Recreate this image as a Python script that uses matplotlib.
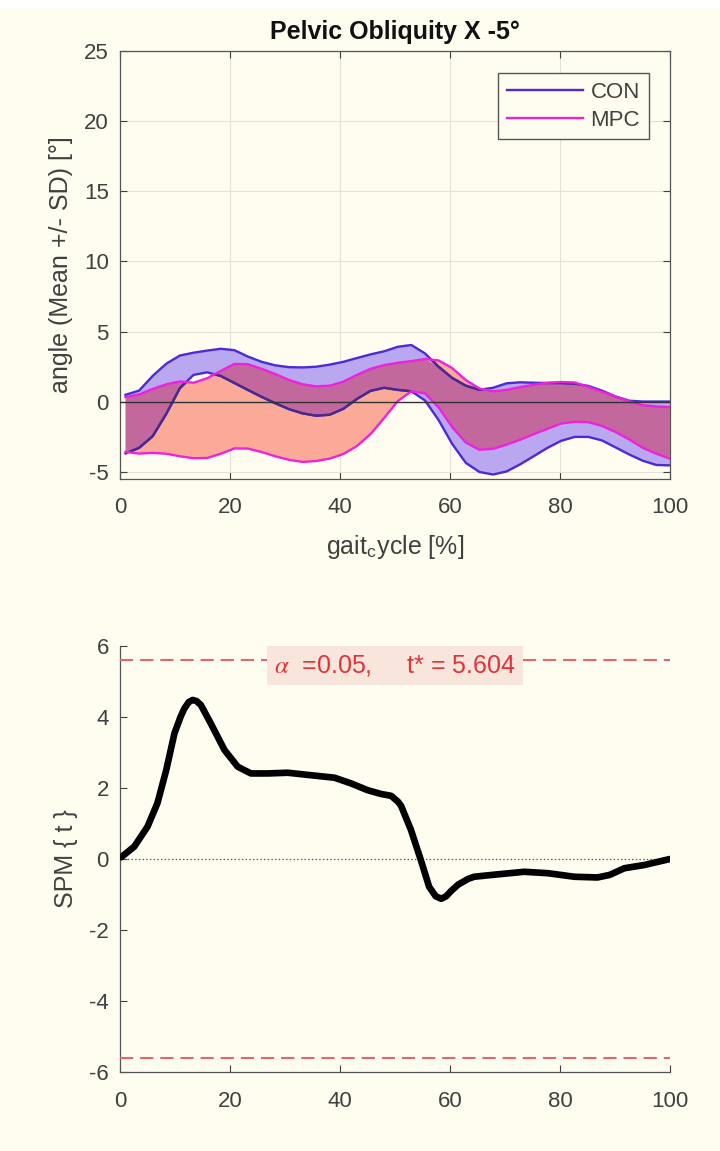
import numpy as np
import matplotlib
matplotlib.use("Agg")
import matplotlib.pyplot as plt
from matplotlib.patches import Rectangle

plt.rcParams['font.family'] = ['Liberation Sans', 'DejaVu Sans']
plt.rcParams['mathtext.fontset'] = 'stix'
plt.rcParams['axes.unicode_minus'] = False
plt.rcParams['lines.scale_dashes'] = False

# gait cycle samples (%)
gait = np.linspace(1, 100, 41)

# mean +/- SD envelopes (deg)
con_upper = [0.5, 0.8, 1.85, 2.72, 3.3, 3.5, 3.65, 3.78, 3.68, 3.22, 2.85, 2.6, 2.47, 2.45,
             2.5, 2.65, 2.85, 3.12, 3.38, 3.6, 3.92, 4.05, 3.45, 2.5, 1.7, 1.15, 0.86, 1.0,
             1.32, 1.39, 1.36, 1.34, 1.34, 1.3, 1.13, 0.8, 0.38, 0.08, 0.02, 0.02, 0.02]
con_lower = [-3.68, -3.28, -2.45, -0.85, 0.98, 1.92, 2.1, 1.84, 1.34, 0.84, 0.35, -0.1, -0.52,
             -0.82, -0.99, -0.92, -0.5, 0.2, 0.78, 1.0, 0.85, 0.75, 0.1, -1.3, -3.0, -4.35,
             -5.0, -5.18, -4.96, -4.45, -3.87, -3.28, -2.78, -2.5, -2.5, -2.75, -3.25, -3.75,
             -4.2, -4.5, -4.53]
mpc_upper = [0.34, 0.52, 0.92, 1.25, 1.45, 1.36, 1.68, 2.2, 2.7, 2.68, 2.35, 1.98, 1.56, 1.25,
             1.1, 1.15, 1.43, 1.92, 2.35, 2.62, 2.78, 2.9, 3.05, 2.95, 2.4, 1.55, 0.95, 0.74,
             0.85, 1.05, 1.22, 1.36, 1.41, 1.38, 1.05, 0.72, 0.38, 0.02, -0.24, -0.33, -0.38]
mpc_lower = [-3.57, -3.69, -3.64, -3.7, -3.88, -4.02, -4.0, -3.7, -3.32, -3.33, -3.58, -3.88,
             -4.13, -4.28, -4.22, -4.05, -3.72, -3.15, -2.3, -1.15, 0.05, 0.75, 0.6, -0.4, -1.8,
             -2.9, -3.42, -3.35, -3.05, -2.7, -2.3, -1.92, -1.55, -1.42, -1.45, -1.72, -2.15,
             -2.68, -3.28, -3.7, -4.05]

# SPM{t} trajectory, read at its own gait positions
spm_x = [0.2, 2.6, 5.0, 6.8, 8.4, 9.9, 11.0, 11.7, 12.5, 13.2, 13.9, 14.7, 16.5, 19.0, 21.4,
         23.8, 26.8, 30.5, 34.1, 39.0, 42.0, 45.0, 47.5, 49.3, 50.5, 51.1, 52.9, 54.7, 56.2,
         57.4, 58.4, 59.3, 60.2, 61.5, 63.3, 64.4, 67.5, 73.5, 77.8, 82.6, 86.8, 89.0, 91.7,
         95.3, 100.0]
spm_t = [0.05, 0.35, 0.91, 1.57, 2.5, 3.54, 4.0, 4.24, 4.42, 4.48, 4.45, 4.34, 3.82, 3.07, 2.6,
         2.41, 2.41, 2.43, 2.37, 2.29, 2.13, 1.94, 1.83, 1.78, 1.62, 1.5, 0.82, -0.03, -0.78,
         -1.05, -1.12, -1.05, -0.9, -0.72, -0.56, -0.5, -0.45, -0.36, -0.4, -0.5, -0.52, -0.45,
         -0.26, -0.17, 0.0]
t_star = 5.604
alpha_level = 0.05

bg = '#FFFDF0'
tick_col = '#404040'
con_col = '#4B2BD9'
con_dark = '#4A2A88'
mpc_col = '#EE22DD'
con_fill = '#B9A7EF'
mpc_fill = '#FCAA98'
both_fill = '#C2689C'

fig = plt.figure(figsize=(7.2, 11.51), dpi=100, facecolor=bg)
fig.patches.append(Rectangle((0, 1 - 7 / 1151), 1, 7 / 1151, transform=fig.transFigure,
                             color='white', zorder=0))

# ---- top: mean +/- SD ----
ax1 = fig.add_axes([120 / 720, 1 - 479 / 1151, 550 / 720, 428 / 1151], facecolor=bg)
con_lo, con_hi = np.array(con_lower), np.array(con_upper)
mpc_lo, mpc_hi = np.array(mpc_lower), np.array(mpc_upper)
ax1.fill_between(gait, con_lo, con_hi, color=con_fill, lw=0, zorder=2)
mpc_poly = ax1.fill_between(gait, mpc_lo, mpc_hi, color=mpc_fill, lw=0, zorder=2)
lo = np.maximum(con_lo, mpc_lo)
hi = np.minimum(con_hi, mpc_hi)
ax1.fill_between(gait, lo, hi, where=hi > lo, interpolate=True, color=both_fill, lw=0, zorder=3)

ax1.plot(gait, con_hi, color=con_col, lw=1.7, zorder=4, label='CON')
ax1.plot(gait, con_lo, color=con_col, lw=1.7, zorder=4)
for ys in (con_hi, con_lo):
    dk, = ax1.plot(gait, ys, color=con_dark, lw=1.7, zorder=4.5)
    dk.set_clip_path(mpc_poly.get_paths()[0], ax1.transData)
ax1.plot(gait, mpc_hi, color=mpc_col, lw=1.7, zorder=5, label='MPC')
ax1.plot(gait, mpc_lo, color=mpc_col, lw=1.7, zorder=5)
ax1.axhline(0, color='#333333', lw=1, zorder=6)

ax1.set_xlim(0, 100)
ax1.set_ylim(-5.5, 25)
ax1.set_xticks(range(0, 101, 20))
ax1.set_yticks(range(-5, 26, 5))
ax1.grid(True, color='#E4E2D6', lw=0.8, zorder=0)
ax1.set_axisbelow(True)
ax1.tick_params(direction='in', length=5, top=True, right=True, labelsize=16,
                colors=tick_col, width=0.8)
ax1.tick_params(axis='x', pad=13)
ax1.tick_params(axis='y', pad=8)
for s in ax1.spines.values():
    s.set_color('#555555')
    s.set_linewidth(0.9)
ax1.set_title('Pelvic Obliquity X -5°', fontsize=18, fontweight='bold', pad=9, color='#111111')
ax1.set_xlabel(r'gait$_\mathregular{c}$ycle [%]', fontsize=18, color=tick_col, labelpad=11)
ax1.set_ylabel('angle (Mean +/- SD) [°]', fontsize=18, color=tick_col, labelpad=8)
leg = ax1.legend(loc='upper right', bbox_to_anchor=(0.9618, 0.9486), borderaxespad=0,
                 fontsize=16, handlelength=3.4, handletextpad=0.35, labelspacing=0.3,
                 borderpad=0.4, fancybox=False, framealpha=1, facecolor=bg,
                 edgecolor='#555555')
for txt in leg.get_texts():
    txt.set_color(tick_col)

# ---- bottom: SPM{t} ----
ax2 = fig.add_axes([120 / 720, 1 - 1072 / 1151, 550 / 720, 426 / 1151], facecolor=bg)
ax2.plot(spm_x, spm_t, color='black', lw=4.8, solid_capstyle='round',
         solid_joinstyle='round', zorder=4)
ax2.axhline(0, color='#555555', lw=0.9, ls=':', zorder=2)
for th in (t_star, -t_star):
    ax2.axhline(th, color='#E06868', lw=1.5, dashes=(9.5, 5), zorder=3)
ax2.text(50, 5.44, r'$\alpha$  =%.2f,     t* = %.3f' % (alpha_level, t_star), color='#E3323A',
         fontsize=18, ha='center', va='center', zorder=5,
         bbox=dict(facecolor='#F8E6DC', edgecolor='none', pad=5))

ax2.set_xlim(0, 100)
ax2.set_ylim(-6, 6)
ax2.set_xticks(range(0, 101, 20))
ax2.set_yticks(range(-6, 7, 2))
ax2.tick_params(direction='in', length=5, labelsize=16, colors=tick_col, width=0.8)
ax2.tick_params(axis='x', pad=14)
ax2.tick_params(axis='y', pad=8)
for side in ('top', 'right'):
    ax2.spines[side].set_visible(False)
for side in ('left', 'bottom'):
    ax2.spines[side].set_color('#555555')
    ax2.spines[side].set_linewidth(0.9)
ax2.set_ylabel('SPM { t }', fontsize=18, color=tick_col, labelpad=8)

fig.savefig('out.png', dpi=100, facecolor=bg)
